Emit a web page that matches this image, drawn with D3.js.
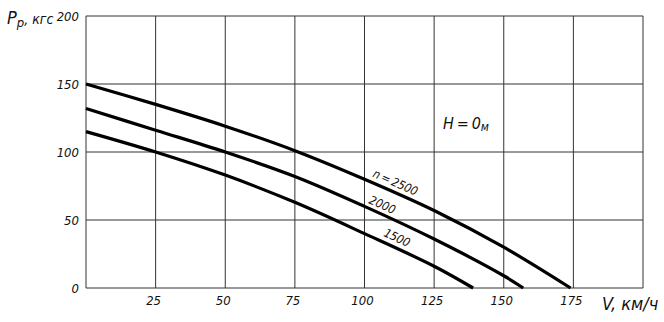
<!DOCTYPE html>
<html><head><meta charset="utf-8">
<script src="https://cdn.jsdelivr.net/npm/d3@7"></script>
<style>body{margin:0;background:#fff}svg{display:block}</style>
</head><body>
<svg id="c" width="664" height="322"></svg>
<script>
const xTicks = [25, 50, 75, 100, 125, 150, 175];
const yTicks = [0, 50, 100, 150, 200];
const xGrid = [0, 25, 50, 75, 100, 125, 150, 175, 200];
const series2500 = [[0,150],[25,135],[50,119],[75,101],[100,80],[125,57],[150,30],[174,0]];
const series2000 = [[0,132],[25,116],[50,100],[75,82],[100,60],[125,36],[150,9],[157,0]];
const series1500 = [[0,115],[25,100],[50,83],[75,63],[100,40],[125,16],[139,0]];
const seriesLabels = ["n\u2009=\u20092500", "2000", "1500"];

const svg = d3.select("#c");
const x = d3.scaleLinear().domain([0, 200]).range([86, 643]);
const y = d3.scaleLinear().domain([0, 200]).range([288, 16]);
const font = "'DejaVu Sans Condensed', 'Liberation Sans Narrow', sans-serif";

// grid
svg.append("g").selectAll("line").data(xGrid).join("line")
  .attr("x1", d => x(d)).attr("x2", d => x(d))
  .attr("y1", y(0)).attr("y2", y(200))
  .attr("stroke", "#333").attr("stroke-width", 1);
svg.append("g").selectAll("line").data(yTicks).join("line")
  .attr("x1", x(0)).attr("x2", x(200))
  .attr("y1", d => y(d)).attr("y2", d => y(d))
  .attr("stroke", "#333").attr("stroke-width", 1);

// tick labels
svg.append("g").selectAll("text").data(yTicks).join("text")
  .attr("x", 79).attr("y", d => y(d) + 5)
  .attr("text-anchor", "end")
  .attr("font-family", font).attr("font-style", "italic")
  .attr("font-size", 13).attr("fill", "#111")
  .text(d => d);
svg.append("g").selectAll("text").data(xTicks).join("text")
  .attr("x", d => x(d) - 2).attr("y", 305)
  .attr("text-anchor", "middle")
  .attr("font-family", font).attr("font-style", "italic")
  .attr("font-size", 13).attr("fill", "#111")
  .text(d => d);

// axis titles
const yt = svg.append("text").attr("x", 7).attr("y", 24)
  .attr("font-family", font).attr("font-style", "italic")
  .attr("font-size", 18).attr("fill", "#111");
yt.append("tspan").text("P");
yt.append("tspan").attr("font-size", 13).attr("dy", 3).text("p");
yt.append("tspan").attr("dy", -3).attr("font-size", 14).text(", кгс");

svg.append("text").attr("x", 602).attr("y", 310)
  .attr("font-family", font).attr("font-style", "italic")
  .attr("font-size", 18).attr("fill", "#111").text("V, км/ч");

const ht = svg.append("text").attr("x", 443).attr("y", 129)
  .attr("font-family", font).attr("font-style", "italic")
  .attr("font-size", 16).attr("fill", "#111");
ht.append("tspan").text("H\u2009=\u20090");
ht.append("tspan").attr("font-size", 12).attr("dy", 2).text("м");

// curves
const line = d3.line().x(d => x(d[0])).y(d => y(d[1])).curve(d3.curveCatmullRom);
[series2500, series2000, series1500].forEach(s => {
  svg.append("path").datum(s).attr("d", line)
    .attr("fill", "none").attr("stroke", "#000").attr("stroke-width", 3.2);
});

// curve labels (anchor in data units, rotation in degrees)
const labelPos = [[102.7, 82, 24], [101.3, 62.5, 24], [106.6, 38.5, 25]];
seriesLabels.forEach((t, i) => {
  const [vx, vy, r] = labelPos[i];
  svg.append("text")
    .attr("transform", `translate(${x(vx)},${y(vy)}) rotate(${r})`)
    .attr("font-family", font).attr("font-style", "italic")
    .attr("font-size", 12).attr("fill", "#111")
    .text(t);
});
</script>
</body></html>
